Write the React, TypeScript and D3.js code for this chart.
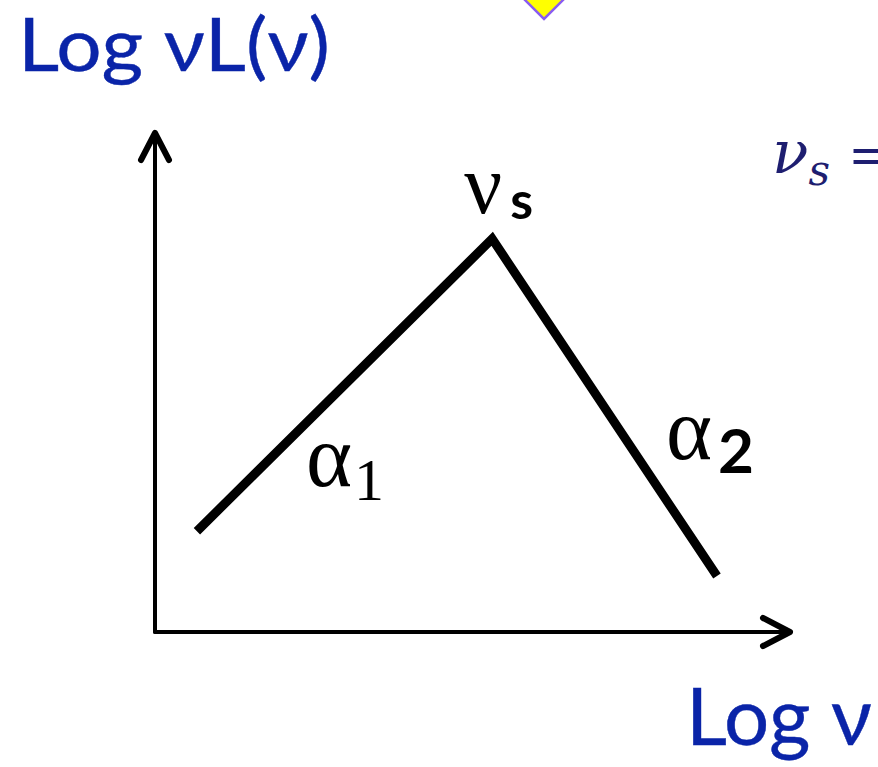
import React from "react";
import * as d3 from "d3";

const W = 878;
const H = 767;

// Broken power-law SED (log ν, log νL(ν)) in arbitrary units
const logNu = [0.66, 5.31, 8.85];
const logNuL = [2.02, 7.88, 1.12];
const segmentLabels = ["α", "α"];
const segmentSubs = ["1", "2"];

const xScale = d3.scaleLinear().domain([0, 10]).range([155, 790]);
const yScale = d3.scaleLinear().domain([0, 10]).range([632, 133]);

export default function App() {
  const pts: [number, number][] = logNu.map((v, i) => [v, logNuL[i]]);
  const line = d3
    .line<[number, number]>()
    .x((d) => xScale(d[0]))
    .y((d) => yScale(d[1]));

  const x0 = xScale(0);
  const y0 = yScale(0);
  const xEnd = xScale(10);
  const yEnd = yScale(10);
  const peakX = xScale(logNu[1]);
  const peakY = yScale(logNuL[1]);
  const blue = "#0a24a8";

  return (
    <svg
      width={W}
      height={H}
      style={{ position: "absolute", left: 0, top: 0, background: "#fff" }}
    >
      {/* yellow diamond cut off at top */}
      <path
        d="M 505 -20 L 544 19 L 583 -20 Z"
        fill="#ffff00"
        stroke="#8a5cf0"
        strokeWidth={2.5}
      />

      {/* axis titles */}
      <text
        x={18}
        y={71}
        style={{ fontFamily: "Lato" }}
        fontSize={74}
        fill={blue}
        stroke={blue}
        strokeWidth={0.4}
        textLength={312}
        lengthAdjust="spacingAndGlyphs"
      >
        Log νL(ν)
      </text>
      <text
        x={686}
        y={745}
        style={{ fontFamily: "Lato" }}
        fontSize={80}
        fill={blue}
        stroke={blue}
        strokeWidth={0.4}
        textLength={186}
        lengthAdjust="spacingAndGlyphs"
      >
        Log ν
      </text>

      {/* ν_s = (cut off at right edge, as in the source slide) */}
      <text
        x={772}
        y={173}
        style={{ fontFamily: "DejaVu Serif" }}
        fontStyle="italic"
        fontSize={60}
        fill="#1e1e70"
      >
        ν
        <tspan dx={0} dy={12} fontSize={42}>
          s
        </tspan>
        <tspan dx={18} dy={-12} fontStyle="normal" fontSize={52}>
          =
        </tspan>
      </text>

      {/* axes */}
      <g stroke="#000" strokeWidth={4} fill="none" strokeLinecap="round" strokeLinejoin="round">
        <line x1={x0} y1={y0} x2={x0} y2={yEnd + 2} />
        <line x1={x0} y1={y0} x2={xEnd - 2} y2={y0} />
        <path d={`M ${x0 - 14} ${yEnd + 27} L ${x0} ${yEnd} L ${x0 + 14} ${yEnd + 27}`} strokeWidth={6} />
        <path d={`M ${xEnd - 27} ${y0 - 14} L ${xEnd} ${y0} L ${xEnd - 27} ${y0 + 14}`} strokeWidth={6} />
      </g>

      {/* broken power law */}
      <path d={line(pts) || ""} stroke="#000" strokeWidth={9} fill="none" strokeLinejoin="miter" />

      {/* peak label ν_s */}
      <text
        x={peakX - 28}
        y={peakY - 26}
        style={{ fontFamily: "Liberation Serif" }}
        fontSize={84}
        fill="#000"
      >
        ν
        <tspan dx={8} dy={6} style={{ fontFamily: "Lato" }} fontWeight="bold" fontSize={52}>
          s
        </tspan>
      </text>

      {/* slope labels */}
      <text x={306} y={486} style={{ fontFamily: "Liberation Serif" }} fontSize={88} fill="#000">
        {segmentLabels[0]}
        <tspan dx={2} dy={14} style={{ fontFamily: "Liberation Serif" }} fontSize={60}>
          {segmentSubs[0]}
        </tspan>
      </text>
      <text x={666} y={459} style={{ fontFamily: "Liberation Serif" }} fontSize={88} fill="#000">
        {segmentLabels[1]}
        <tspan dx={6} dy={14} style={{ fontFamily: "Lato" }} fontWeight="bold" fontSize={62}>
          {segmentSubs[1]}
        </tspan>
      </text>
    </svg>
  );
}
